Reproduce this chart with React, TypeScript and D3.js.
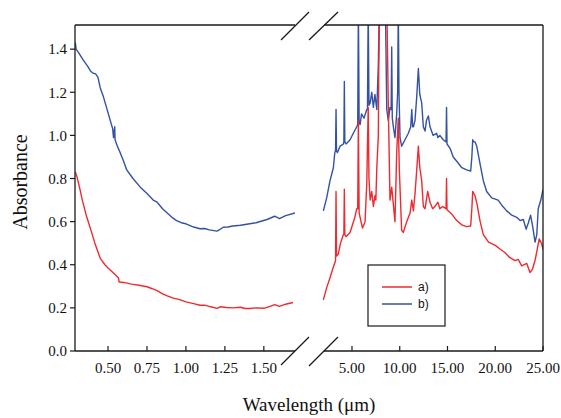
import React from "react";
import * as d3 from "d3";

// ---------- data ----------
const yTicks = [0.0, 0.2, 0.4, 0.6, 0.8, 1.0, 1.2, 1.4];
const leftXTicks = [0.5, 0.75, 1.0, 1.25, 1.5];
const rightXTicks = [5, 10, 15, 20, 25];
const seriesNames = ["a)", "b)"];

// visible / NIR region (µm, absorbance)
const redLeft: [number, number][] = [
  [0.29, 0.83], [0.3, 0.81], [0.32, 0.75], [0.335, 0.7], [0.36, 0.63], [0.386, 0.57],
  [0.42, 0.49], [0.45, 0.43], [0.48, 0.4], [0.5, 0.385], [0.53, 0.365], [0.566, 0.34],
  [0.572, 0.32], [0.6, 0.318], [0.65, 0.31], [0.7, 0.305], [0.75, 0.298], [0.78, 0.29],
  [0.815, 0.28], [0.85, 0.265], [0.88, 0.256], [0.92, 0.245], [0.96, 0.238], [1.0, 0.228],
  [1.05, 0.22], [1.09, 0.212], [1.12, 0.213], [1.16, 0.205], [1.2, 0.198], [1.22, 0.205],
  [1.26, 0.202], [1.3, 0.2], [1.35, 0.203], [1.38, 0.197], [1.41, 0.197], [1.45, 0.2],
  [1.5, 0.198], [1.53, 0.205], [1.57, 0.215], [1.6, 0.207], [1.64, 0.217], [1.687, 0.225],
];
const blueLeft: [number, number][] = [
  [0.29, 1.43], [0.295, 1.4], [0.31, 1.385], [0.34, 1.35], [0.37, 1.32], [0.386, 1.3],
  [0.4, 1.29], [0.42, 1.285], [0.435, 1.27], [0.45, 1.22], [0.47, 1.18], [0.49, 1.13],
  [0.51, 1.08], [0.53, 1.03], [0.535, 0.99], [0.543, 1.04], [0.545, 0.98], [0.56, 0.95],
  [0.578, 0.92], [0.6, 0.88], [0.62, 0.84], [0.66, 0.8], [0.707, 0.76], [0.75, 0.73],
  [0.79, 0.7], [0.815, 0.69], [0.85, 0.66], [0.88, 0.64], [0.91, 0.62], [0.94, 0.605],
  [0.97, 0.595], [1.0, 0.59], [1.05, 0.575], [1.09, 0.567], [1.12, 0.568], [1.15, 0.562],
  [1.2, 0.556], [1.24, 0.574], [1.27, 0.575], [1.3, 0.58], [1.35, 0.583], [1.41, 0.59],
  [1.45, 0.595], [1.52, 0.61], [1.57, 0.625], [1.6, 0.614], [1.64, 0.628], [1.7, 0.64],
];

// IR region (µm, absorbance)
const redRight: [number, number][] = [
  [2.0, 0.237], [2.35, 0.294], [2.7, 0.34], [2.98, 0.38], [3.22, 0.41], [3.28, 0.42],
  [3.33, 0.74], [3.38, 0.44], [3.57, 0.45], [3.8, 0.5], [4.1, 0.54], [4.15, 0.54],
  [4.2, 0.75], [4.25, 0.54], [4.38, 0.53], [4.8, 0.55], [5.3, 0.62], [5.5, 0.66],
  [5.6, 0.66], [5.67, 1.07], [5.75, 0.64], [5.85, 0.62], [6.1, 0.57], [6.37, 0.6],
  [6.55, 0.78], [6.62, 0.95], [6.7, 1.13], [6.78, 0.8], [6.9, 0.7], [7.07, 0.74],
  [7.24, 0.67], [7.4, 0.72], [7.5, 0.7], [7.6, 0.85], [7.76, 1.0], [7.8, 1.3],
  [7.9, 1.6], [8.2, 1.6], [8.4, 1.6], [8.65, 1.6], [8.8, 1.15], [8.98, 0.7],
  [9.16, 0.76], [9.33, 0.68], [9.5, 0.6], [9.68, 0.92], [9.85, 1.08], [9.95, 0.85],
  [10.2, 0.56], [10.37, 0.55], [10.73, 0.6], [11.08, 0.64], [11.26, 0.7], [11.43, 0.65],
  [11.6, 0.73], [11.78, 0.84], [11.95, 0.95], [12.1, 0.85], [12.3, 0.79], [12.47, 0.67],
  [12.65, 0.66], [12.93, 0.74], [13.17, 0.69], [13.45, 0.66], [13.67, 0.67], [14.0, 0.69],
  [14.2, 0.66], [14.5, 0.67], [14.85, 0.66], [14.9, 0.8], [14.95, 0.655], [15.45, 0.635],
  [15.97, 0.605], [16.5, 0.585], [17.0, 0.577], [17.43, 0.58], [17.55, 0.66], [17.64, 0.74],
  [17.88, 0.72], [18.1, 0.68], [18.4, 0.605], [18.75, 0.54], [19.3, 0.505], [20.0, 0.49],
  [20.5, 0.473], [21.0, 0.457], [21.5, 0.434], [22.07, 0.419], [22.4, 0.425], [22.77, 0.395],
  [23.3, 0.406], [23.64, 0.364], [23.9, 0.38], [24.17, 0.42], [24.4, 0.473], [24.6, 0.52],
  [24.87, 0.496], [25.0, 0.47],
];
const blueRight: [number, number][] = [
  [2.0, 0.65], [2.35, 0.71], [2.7, 0.79], [3.05, 0.85], [3.2, 0.92], [3.28, 0.93],
  [3.33, 1.12], [3.38, 0.93], [3.47, 0.92], [3.75, 0.95], [4.1, 0.96], [4.15, 0.97],
  [4.2, 1.25], [4.25, 0.97], [4.38, 0.96], [4.8, 0.98], [5.14, 1.01], [5.5, 1.04],
  [5.6, 1.05], [5.67, 1.6], [5.75, 1.06], [5.85, 1.05], [6.0, 1.1], [6.26, 1.08],
  [6.55, 1.12], [6.62, 1.12], [6.7, 1.6], [6.78, 1.14], [6.9, 1.15], [7.07, 1.2],
  [7.24, 1.13], [7.4, 1.19], [7.6, 1.12], [7.76, 1.33], [7.86, 1.6], [8.3, 1.6],
  [8.5, 1.6], [8.64, 1.12], [8.8, 1.07], [8.98, 1.13], [9.1, 1.12], [9.16, 1.41],
  [9.22, 1.08], [9.33, 1.04], [9.5, 0.99], [9.68, 1.1], [9.78, 1.2], [9.85, 1.6],
  [9.92, 1.2], [10.03, 0.99], [10.2, 0.95], [10.55, 0.98], [10.9, 1.01], [11.15, 1.04],
  [11.26, 1.12], [11.35, 1.04], [11.43, 1.04], [11.6, 1.07], [11.78, 1.18], [11.95, 1.31],
  [12.1, 1.19], [12.3, 1.15], [12.47, 1.04], [12.65, 1.02], [12.8, 1.07], [13.0, 1.09],
  [13.17, 1.04], [13.5, 1.0], [13.85, 1.01], [14.0, 0.99], [14.2, 1.0], [14.55, 0.98],
  [14.85, 0.97], [14.9, 1.13], [14.95, 0.96], [15.27, 0.94], [15.6, 0.9], [15.97, 0.88],
  [16.5, 0.85], [17.0, 0.84], [17.43, 0.835], [17.55, 0.9], [17.64, 0.98], [17.75, 0.97],
  [17.88, 0.97], [18.06, 0.95], [18.4, 0.87], [18.75, 0.79], [19.1, 0.74], [19.63, 0.71],
  [20.3, 0.7], [20.7, 0.675], [21.2, 0.65], [21.73, 0.63], [22.25, 0.62], [22.6, 0.605],
  [22.94, 0.61], [23.23, 0.565], [23.47, 0.595], [23.7, 0.63], [23.93, 0.575], [24.17, 0.505],
  [24.35, 0.54], [24.5, 0.66], [24.77, 0.7], [25.0, 0.75],
];

// ---------- layout ----------
const W = 561;
const H = 418;
const TOP = 25;
const BOTTOM = 351;
const L0 = 75, L1 = 295; // left panel
const R0 = 324, R1 = 543; // right panel
const RED = "#ee2a30";
const BLUE = "#3452a4";
const AXIS = "#1a1a1a";
const SERIF = "'Liberation Serif', 'Times New Roman', serif";
const SANS = "'Liberation Sans', Arial, sans-serif";

export default function App() {
  const y = d3.scaleLinear().domain([0, 1.512]).range([BOTTOM, TOP]);
  const xL = d3.scaleLinear().domain([0.288, 1.7]).range([L0, L1]);
  const xR = d3.scaleLinear().domain([2.07, 25]).range([R0, R1]);

  const lineL = d3.line<[number, number]>().x((d) => xL(d[0])).y((d) => y(d[1]));
  const lineR = d3.line<[number, number]>().x((d) => xR(d[0])).y((d) => y(d[1]));

  // break marks (slashes) at top and bottom
  const slashes = [
    [281, 40, 309, 12],
    [309, 40, 338, 12],
    [281, 365, 309, 337],
    [309, 366, 338, 337],
  ];

  const tickLabelStyle: React.CSSProperties = { fontFamily: SERIF, fontSize: 15, fill: "#111" };

  return (
    <svg width={W} height={H} style={{ position: "absolute", left: 0, top: 0, background: "#fff" }}>
      <defs>
        <clipPath id="clipL">
          <rect x={L0} y={TOP} width={L1 - L0} height={BOTTOM - TOP} />
        </clipPath>
        <clipPath id="clipR">
          <rect x={R0 - 2} y={TOP} width={R1 - R0 + 2} height={BOTTOM - TOP} />
        </clipPath>
      </defs>

      {/* curves */}
      <g clipPath="url(#clipL)" fill="none" strokeWidth={1.4} strokeLinejoin="round">
        <path d={lineL(blueLeft) || ""} stroke={BLUE} />
        <path d={lineL(redLeft) || ""} stroke={RED} />
      </g>
      <g clipPath="url(#clipR)" fill="none" strokeWidth={1.4} strokeLinejoin="round">
        <path d={lineR(blueRight) || ""} stroke={BLUE} />
        <path d={lineR(redRight) || ""} stroke={RED} />
      </g>

      {/* frame */}
      <g stroke={AXIS} strokeWidth={1.3} fill="none">
        <line x1={L0} y1={TOP} x2={L0} y2={BOTTOM} />
        <line x1={L0} y1={TOP} x2={L1} y2={TOP} />
        <line x1={L0} y1={BOTTOM} x2={L1} y2={BOTTOM} />
        <line x1={R0} y1={TOP} x2={R1} y2={TOP} />
        <line x1={R0} y1={BOTTOM} x2={R1} y2={BOTTOM} />
        <line x1={R1} y1={TOP} x2={R1} y2={BOTTOM} />
        {slashes.map((s, i) => (
          <line key={i} x1={s[0]} y1={s[1]} x2={s[2]} y2={s[3]} />
        ))}
      </g>

      {/* y ticks */}
      {yTicks.map((t) => (
        <g key={"y" + t}>
          <line x1={L0 - 5} x2={L0} y1={y(t)} y2={y(t)} stroke={AXIS} strokeWidth={1.2} />
          <text x={L0 - 8} y={y(t)} dy="0.35em" textAnchor="end" style={tickLabelStyle}>
            {t.toFixed(1)}
          </text>
        </g>
      ))}

      {/* left x ticks */}
      {leftXTicks.map((t) => (
        <g key={"xl" + t}>
          <line x1={xL(t)} x2={xL(t)} y1={BOTTOM} y2={BOTTOM - 5} stroke={AXIS} strokeWidth={1.2} />
          <text x={xL(t)} y={373} textAnchor="middle" style={tickLabelStyle}>
            {t.toFixed(2)}
          </text>
        </g>
      ))}

      {/* right x ticks */}
      {rightXTicks.map((t) => (
        <g key={"xr" + t}>
          <line x1={xR(t)} x2={xR(t)} y1={BOTTOM} y2={BOTTOM - 5} stroke={AXIS} strokeWidth={1.2} />
          <text x={xR(t)} y={373} textAnchor="middle" style={tickLabelStyle}>
            {t.toFixed(2)}
          </text>
        </g>
      ))}

      {/* axis titles */}
      <text
        transform="translate(27,182) rotate(-90)"
        textAnchor="middle"
        style={{ fontFamily: SERIF, fontSize: 20, fill: "#111" }}
      >
        Absorbance
      </text>
      <text x={309} y={411} textAnchor="middle" style={{ fontFamily: SERIF, fontSize: 19, fill: "#111" }}>
        Wavelength (μm)
      </text>

      {/* legend */}
      <g>
        <rect x={368} y={265} width={77} height={61} fill="#fff" stroke={AXIS} strokeWidth={1.2} />
        {seriesNames.map((name, i) => (
          <g key={name}>
            <line
              x1={382}
              x2={412}
              y1={287 + i * 17}
              y2={287 + i * 17}
              stroke={i === 0 ? RED : BLUE}
              strokeWidth={1.5}
            />
            <text x={418} y={287 + i * 17} dy="0.35em" style={{ fontFamily: SANS, fontSize: 12, fill: "#111" }}>
              {name}
            </text>
          </g>
        ))}
      </g>
    </svg>
  );
}
